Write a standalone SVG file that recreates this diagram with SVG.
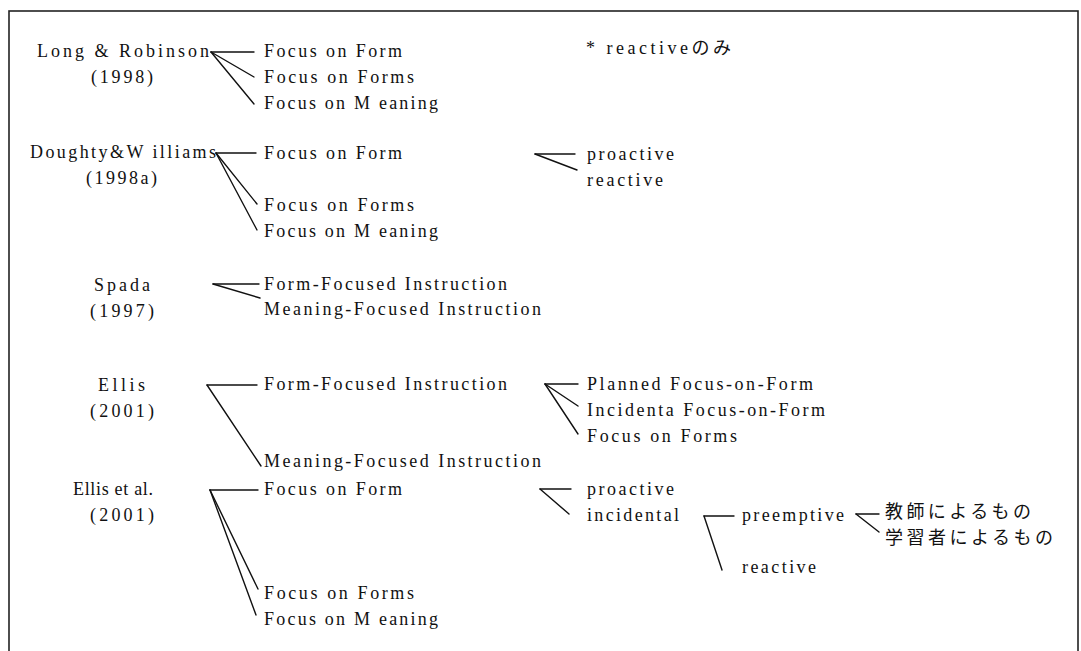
<svg xmlns="http://www.w3.org/2000/svg" width="1081" height="651" viewBox="0 0 1081 651">
<style>
text{font-family:"Liberation Serif","Times New Roman","Noto Sans CJK JP",serif;font-size:18px;fill:#111}
.jp{font-family:"Liberation Serif","Noto Sans CJK JP",serif;font-size:18px}
#connectors line{stroke:#111;stroke-width:1.4;stroke-linecap:round}
</style>
<rect x="0" y="0" width="1081" height="651" fill="#fff"/>
<rect id="frame" x="9" y="11" width="1069" height="680" fill="none" stroke="#222" stroke-width="1.6"/>

<g id="connectors">
  <line x1="211" y1="52" x2="254" y2="52"/>
  <line x1="211" y1="52" x2="254" y2="77"/>
  <line x1="211" y1="52" x2="254" y2="104"/>

  <line x1="216" y1="153" x2="256" y2="153"/>
  <line x1="216" y1="153" x2="257" y2="204"/>
  <line x1="216" y1="153" x2="257" y2="230"/>
  <line x1="535" y1="154" x2="575" y2="154"/>
  <line x1="535" y1="154" x2="577" y2="170"/>

  <line x1="213" y1="284" x2="259" y2="284"/>
  <line x1="213" y1="284" x2="260" y2="298"/>

  <line x1="207" y1="385" x2="257" y2="385"/>
  <line x1="207" y1="385" x2="261" y2="466"/>
  <line x1="545" y1="384" x2="578" y2="384"/>
  <line x1="545" y1="384" x2="578" y2="406"/>
  <line x1="545" y1="384" x2="578" y2="434"/>

  <line x1="210" y1="490" x2="258" y2="490"/>
  <line x1="210" y1="490" x2="258" y2="589"/>
  <line x1="210" y1="490" x2="256" y2="615"/>
  <line x1="540" y1="489" x2="571" y2="489"/>
  <line x1="540" y1="489" x2="569" y2="514"/>
  <line x1="704" y1="516" x2="734" y2="516"/>
  <line x1="704" y1="516" x2="722" y2="570"/>
  <line x1="856" y1="514" x2="879" y2="514"/>
  <line x1="856" y1="514" x2="879" y2="532"/>
</g>

<g id="long-robinson">
  <text x="37" y="57" textLength="172" lengthAdjust="spacing">Long &amp; Robinson</text>
  <text x="91" y="83" textLength="62" lengthAdjust="spacing">(1998)</text>
</g>
<g id="lr-items">
  <text x="264" y="57" textLength="138" lengthAdjust="spacing">Focus on Form</text>
  <text x="264" y="83" textLength="150" lengthAdjust="spacing">Focus on Forms</text>
  <text x="264" y="109" textLength="174" lengthAdjust="spacing">Focus on M eaning</text>
</g>
<g id="note">
  <text class="jp" x="586" y="54" textLength="145" lengthAdjust="spacing">* reactiveのみ</text>
</g>

<g id="doughty-williams">
  <text x="30" y="158" textLength="186" lengthAdjust="spacing">Doughty&amp;W illiams</text>
  <text x="86" y="184" textLength="71" lengthAdjust="spacing">(1998a)</text>
</g>
<g id="dw-items">
  <text x="264" y="159" textLength="138" lengthAdjust="spacing">Focus on Form</text>
  <text x="264" y="211" textLength="150" lengthAdjust="spacing">Focus on Forms</text>
  <text x="264" y="237" textLength="174" lengthAdjust="spacing">Focus on M eaning</text>
</g>
<g id="dw-sub">
  <text x="587" y="160" textLength="87" lengthAdjust="spacing">proactive</text>
  <text x="587" y="186" textLength="76" lengthAdjust="spacing">reactive</text>
</g>

<g id="spada">
  <text x="94" y="291" textLength="56" lengthAdjust="spacing">Spada</text>
  <text x="90" y="317" textLength="64" lengthAdjust="spacing">(1997)</text>
</g>
<g id="spada-items">
  <text x="264" y="290" textLength="243" lengthAdjust="spacing">Form-Focused Instruction</text>
  <text x="264" y="315" textLength="277" lengthAdjust="spacing">Meaning-Focused Instruction</text>
</g>

<g id="ellis">
  <text x="98" y="391" textLength="47" lengthAdjust="spacing">Ellis</text>
  <text x="90" y="417" textLength="64" lengthAdjust="spacing">(2001)</text>
</g>
<g id="ellis-items">
  <text x="264" y="390" textLength="243" lengthAdjust="spacing">Form-Focused Instruction</text>
  <text x="264" y="467" textLength="277" lengthAdjust="spacing">Meaning-Focused Instruction</text>
</g>
<g id="ellis-sub">
  <text x="587" y="390" textLength="226" lengthAdjust="spacing">Planned Focus-on-Form</text>
  <text x="587" y="416" textLength="238" lengthAdjust="spacing">Incidenta Focus-on-Form</text>
  <text x="587" y="442" textLength="150" lengthAdjust="spacing">Focus on Forms</text>
</g>

<g id="ellis-etal">
  <text x="73" y="495" textLength="80" lengthAdjust="spacing">Ellis et al.</text>
  <text x="90" y="521" textLength="64" lengthAdjust="spacing">(2001)</text>
</g>
<g id="ee-items">
  <text x="264" y="495" textLength="138" lengthAdjust="spacing">Focus on Form</text>
  <text x="264" y="599" textLength="150" lengthAdjust="spacing">Focus on Forms</text>
  <text x="264" y="625" textLength="174" lengthAdjust="spacing">Focus on M eaning</text>
</g>
<g id="ee-sub">
  <text x="587" y="495" textLength="87" lengthAdjust="spacing">proactive</text>
  <text x="587" y="521" textLength="92" lengthAdjust="spacing">incidental</text>
</g>
<g id="ee-incidental">
  <text x="742" y="521" textLength="102" lengthAdjust="spacing">preemptive</text>
  <text x="742" y="573" textLength="74" lengthAdjust="spacing">reactive</text>
</g>
<g id="ee-preemptive">
  <text class="jp" x="885" y="518" textLength="146" lengthAdjust="spacing">教師によるもの</text>
  <text class="jp" x="885" y="544" textLength="168" lengthAdjust="spacing">学習者によるもの</text>
</g>
</svg>
